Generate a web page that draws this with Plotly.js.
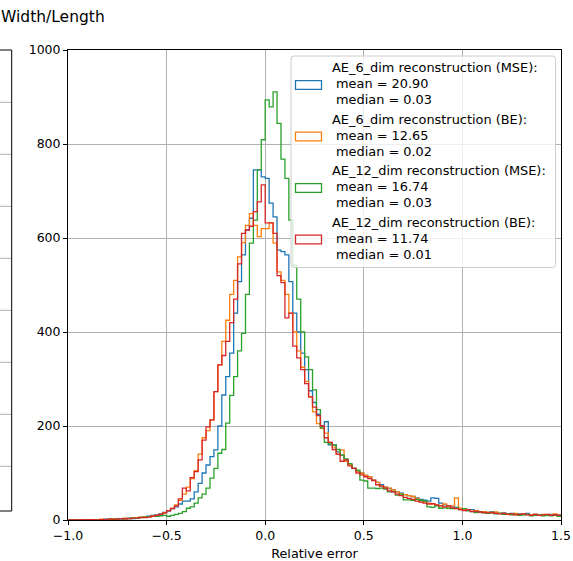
<!DOCTYPE html>
<html><head><meta charset="utf-8">
<script src="https://cdn.plot.ly/plotly-3.0.1.min.js"></script>
<style>html,body{margin:0;padding:0;background:#fff;} #chart{width:573px;height:561px;}</style>
</head><body><div id="chart"></div>
<script>
// ---- data ----
const binStart = -1.0;
const binWidth = 0.02;
const seriesNames = ['AE_6_dim reconstruction (MSE):', 'AE_6_dim reconstruction (BE):', 'AE_12_dim reconstruction (MSE):', 'AE_12_dim reconstruction (BE):'];
const seriesMeans = ['20.90', '12.65', '16.74', '11.74'];
const seriesMedians = ['0.03', '0.02', '0.03', '0.01'];
const seriesColors = ['#1f77b4', '#ff7f0e', '#2ca02c', '#d62728'];

const countsAE6MSE = [
  0, 0, 1, 0, 1, 0, 1, 1, 1, 2,
  2, 1, 3, 2, 3, 4, 3, 5, 6, 6,
  8, 10, 11, 13, 16, 19, 24, 28, 34, 40,
  40, 45, 60, 78, 100, 117, 135, 149, 200, 266,
  305, 355, 440, 507, 564, 617, 642, 745, 745, 730,
  727, 674, 645, 574, 571, 564, 507, 440, 400, 355,
  320, 275, 250, 225, 200, 209, 160, 160, 145, 138,
  128, 118, 110, 104, 100, 95, 92, 85, 80, 75,
  70, 67, 64, 60, 57, 54, 52, 50, 47, 44,
  42, 40, 47, 46, 36, 32, 30, 28, 27, 24,
  22, 20, 22, 19, 18, 17, 16, 17, 15, 14,
  15, 13, 14, 12, 13, 12, 14, 11, 12, 10,
  11, 10, 12, 10, 11
];
const countsAE6BE = [
  0, 1, 0, 0, 1, 1, 1, 1, 2, 1,
  2, 3, 2, 3, 4, 3, 5, 5, 6, 7,
  7, 9, 10, 12, 15, 20, 25, 32, 42, 55,
  70, 88, 105, 140, 175, 190, 213, 273, 330, 380,
  425, 480, 510, 560, 590, 627, 652, 627, 603, 620,
  620, 632, 589, 528, 510, 480, 440, 400, 360, 325,
  295, 262, 230, 205, 195, 185, 165, 155, 140, 149,
  125, 118, 110, 104, 100, 95, 92, 85, 80, 72,
  70, 68, 64, 60, 56, 54, 52, 50, 46, 40,
  38, 36, 34, 32, 30, 34, 28, 30, 47, 25,
  22, 21, 19, 20, 17, 18, 16, 15, 17, 14,
  14, 13, 12, 14, 11, 13, 12, 11, 12, 10,
  12, 10, 11, 13, 10
];
const countsAE12MSE = [
  0, 0, 0, 1, 0, 1, 0, 1, 1, 1,
  1, 2, 2, 3, 3, 3, 4, 4, 5, 6,
  7, 8, 8, 9, 10, 8, 10, 12, 14, 18,
  25, 28, 36, 47, 55, 68, 89, 110, 142, 150,
  206, 265, 305, 360, 397, 480, 589, 638, 745, 809,
  894, 879, 911, 844, 768, 727, 638, 542, 470, 400,
  347, 320, 277, 235, 196, 165, 162, 160, 150, 138,
  130, 120, 110, 106, 85, 83, 68, 68, 67, 68,
  66, 60, 60, 53, 55, 43, 43, 42, 44, 42,
  40, 28, 27, 30, 25, 26, 25, 24, 26, 22,
  24, 20, 18, 16, 17, 15, 14, 16, 13, 14,
  12, 13, 11, 12, 10, 11, 12, 9, 10, 11,
  9, 10, 9, 11, 8
];
const countsAE12BE = [
  0, 0, 0, 1, 0, 1, 1, 0, 1, 1,
  2, 1, 2, 3, 2, 3, 4, 4, 5, 5,
  6, 8, 10, 12, 15, 20, 24, 30, 45, 68,
  62, 90, 103, 128, 170, 198, 213, 273, 330, 350,
  380, 420, 470, 545, 610, 617, 625, 656, 677, 713,
  632, 632, 610, 520, 505, 430, 440, 370, 345, 320,
  290, 262, 240, 222, 200, 175, 165, 150, 140, 125,
  128, 115, 110, 100, 96, 92, 88, 84, 75, 72,
  68, 62, 60, 55, 52, 48, 46, 44, 40, 38,
  36, 34, 35, 32, 30, 28, 30, 26, 24, 22,
  20, 22, 18, 19, 17, 16, 15, 16, 14, 13,
  14, 12, 13, 11, 12, 13, 11, 10, 12, 10,
  11, 12, 10, 11, 10
];
const seriesCounts = [countsAE6MSE, countsAE6BE, countsAE12MSE, countsAE12BE];

const xTickVals = [-1.0, -0.5, 0.0, 0.5, 1.0, 1.5];
const yTickVals = [0, 200, 400, 600, 800, 1000];
const xAxisLabel = 'Relative error';
const panelTitle = 'Width/Length';

// ---- build step traces (matplotlib histtype="step") ----
function stepTrace(counts, color, name) {
  const xs = [binStart], ys = [0];
  for (let i = 0; i < counts.length; i++) {
    xs.push(Math.round((binStart + i * binWidth) * 10000) / 10000);
    ys.push(counts[i]);
  }
  xs.push(Math.round((binStart + counts.length * binWidth) * 10000) / 10000);
  ys.push(counts[counts.length - 1]);
  return {type: 'scatter', mode: 'lines', x: xs, y: ys, name: name,
          line: {shape: 'hv', color: color, width: 1.3}, showlegend: false, hoverinfo: 'skip'};
}
const traces = seriesCounts.map((c, i) => stepTrace(c, seriesColors[i], seriesNames[i]));

// ---- layout helpers (pixel -> paper) ----
const L = 68, R = 561, T = 50, B = 520;
const px = p => (p - L) / (R - L);
const py = p => (B - p) / (B - T);

const shapes = [];
const annotations = [];

// neighbouring (cropped) panel on the left
const leftGrid = [102.3, 154.3, 206.3, 258.3, 310.3, 362.3, 414.3, 466.3];
leftGrid.forEach(g => shapes.push({type: 'line', xref: 'paper', yref: 'paper', x0: px(-5), x1: px(11.2), y0: py(g), y1: py(g), line: {color: '#b0b0b0', width: 1}, layer: 'below'}));
shapes.push({type: 'path', xref: 'paper', yref: 'paper',
  path: `M ${px(-5)},${py(50)} L ${px(11.7)},${py(50)} L ${px(11.7)},${py(511)} L ${px(-5)},${py(511)}`,
  line: {color: '#000', width: 1}});

// legend box (rounded)
const lx0 = 291, lx1 = 555.5, ly0 = 56, ly1 = 267.5, rr = 3;
shapes.push({type: 'path', xref: 'paper', yref: 'paper', layer: 'above',
  path: `M ${px(lx0 + rr)},${py(ly0)} L ${px(lx1 - rr)},${py(ly0)} Q ${px(lx1)},${py(ly0)} ${px(lx1)},${py(ly0 + rr)} ` +
        `L ${px(lx1)},${py(ly1 - rr)} Q ${px(lx1)},${py(ly1)} ${px(lx1 - rr)},${py(ly1)} ` +
        `L ${px(lx0 + rr)},${py(ly1)} Q ${px(lx0)},${py(ly1)} ${px(lx0)},${py(ly1 - rr)} ` +
        `L ${px(lx0)},${py(ly0 + rr)} Q ${px(lx0)},${py(ly0)} ${px(lx0 + rr)},${py(ly0)} Z`,
  fillcolor: 'rgba(255,255,255,0.8)', line: {color: '#cccccc', width: 1}});

seriesNames.forEach((nm, k) => {
  const pc = 85 + 51.5 * k;
  shapes.push({type: 'rect', xref: 'paper', yref: 'paper', layer: 'above',
    x0: px(295.5), x1: px(321.5), y0: py(pc - 4.3), y1: py(pc + 4.3),
    line: {color: seriesColors[k], width: 1.3}, fillcolor: 'rgba(0,0,0,0)'});
  const ty = 67.3 + 51.8 * k;
  const lines = [nm, 'mean = ' + seriesMeans[k], 'median = ' + seriesMedians[k]];
  lines.forEach((t, j) => annotations.push({xref: 'paper', yref: 'paper', x: px(j === 0 ? 330 : 334.3), y: py(ty + 16 * j),
    xanchor: 'left', yanchor: 'middle', showarrow: false, text: t, font: {size: 12.9, color: '#000'}}));
});

// panel title of the neighbouring subplot (kept fully inside the page)
annotations.push({xref: 'paper', yref: 'paper', x: px(-1), y: py(17), xanchor: 'left', yanchor: 'middle',
  showarrow: false, text: panelTitle, font: {size: 15.5, color: '#000'}});

const axisCommon = {ticks: 'outside', ticklen: 4, tickwidth: 1, tickcolor: '#000', showline: true, linecolor: '#000',
  linewidth: 1, mirror: true, showgrid: true, gridcolor: '#b0b0b0', gridwidth: 1, zeroline: false,
  tickfont: {size: 12.5, color: '#000'}, automargin: false};

const layout = {
  width: 573, height: 561,
  margin: {l: L, r: 573 - R, t: T, b: 561 - B, pad: 0},
  paper_bgcolor: '#fff', plot_bgcolor: '#fff',
  font: {family: 'DejaVu Sans', size: 12.5, color: '#000'},
  showlegend: false,
  xaxis: Object.assign({}, axisCommon, {range: [-1, 1.5], tickvals: xTickVals, tickformat: '.1f',
    title: {text: xAxisLabel, font: {size: 12.8, color: '#000'}, standoff: 7}}),
  yaxis: Object.assign({}, axisCommon, {range: [0, 1000], tickvals: yTickVals}),
  shapes: shapes,
  annotations: annotations
};

Plotly.newPlot('chart', traces, layout, {staticPlot: true, displayModeBar: false});
</script>
</body></html>
